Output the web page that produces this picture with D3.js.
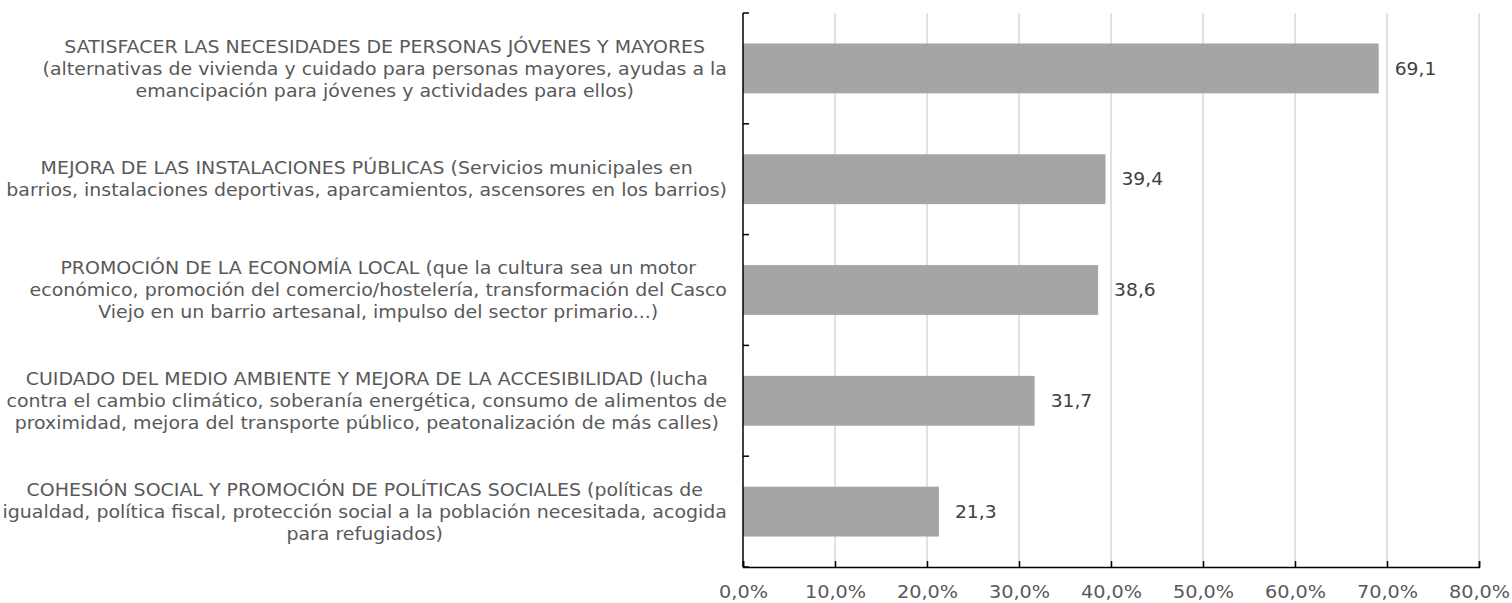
<!DOCTYPE html>
<html>
<head>
<meta charset="utf-8">
<script src="https://cdn.jsdelivr.net/npm/d3@7"></script>
<style>
  html, body { margin: 0; padding: 0; background: #fff; }
  svg { display: block; }
  text { font-family: Verdana, "DejaVu Sans", sans-serif; }
</style>
</head>
<body>
<div id="chart"></div>
<script>
// label lines for each bar, top to bottom
var labelLines = [
  ["SATISFACER LAS NECESIDADES DE PERSONAS JÓVENES Y MAYORES",
   "(alternativas de vivienda y cuidado para personas mayores, ayudas a la",
   "emancipación para jóvenes y actividades para ellos)"],
  ["MEJORA DE LAS INSTALACIONES PÚBLICAS (Servicios municipales en",
   "barrios, instalaciones deportivas, aparcamientos, ascensores en los barrios)"],
  ["PROMOCIÓN DE LA ECONOMÍA LOCAL (que la cultura sea un motor",
   "económico, promoción del comercio/hostelería, transformación del Casco",
   "Viejo en un barrio artesanal, impulso del sector primario...)"],
  ["CUIDADO DEL MEDIO AMBIENTE Y MEJORA DE LA ACCESIBILIDAD (lucha",
   "contra el cambio climático, soberanía energética, consumo de alimentos de",
   "proximidad, mejora del transporte público, peatonalización de más calles)"],
  ["COHESIÓN SOCIAL Y PROMOCIÓN DE POLÍTICAS SOCIALES (políticas de",
   "igualdad, política fiscal, protección social a la población necesitada, acogida",
   "para refugiados)"]
];
var values = [69.1, 39.4, 38.6, 31.7, 21.3];
var xTicks = [0, 10, 20, 30, 40, 50, 60, 70, 80];

var width = 1512, height = 603;
var margin = {top: 13, right: 33, bottom: 36, left: 743};
// DejaVu is narrower than Verdana, stretch text a little
var stretch = 1.1;
var labelStretch = 1.115;

var svg = d3.select('#chart').append('svg')
  .attr('width', width)
  .attr('height', height);

var x = d3.scaleLinear()
  .domain([0, 80])
  .range([margin.left, width - margin.right]);

var idx = d3.range(values.length);
var y = d3.scaleBand()
  .domain(idx)
  .range([margin.top, height - margin.bottom])
  .paddingInner(0.55)
  .paddingOuter(0.275);

var fmt = function(v) { return d3.format('.1f')(v).replace('.', ','); };

// vertical gridlines
svg.append('g')
  .selectAll('line')
  .data(xTicks.slice(1))
  .enter().append('line')
  .attr('x1', d => x(d)).attr('x2', d => x(d))
  .attr('y1', margin.top).attr('y2', height - margin.bottom)
  .attr('stroke', '#d9d9d9')
  .attr('stroke-width', 1.5);

// bars
svg.append('g')
  .selectAll('rect')
  .data(values)
  .enter().append('rect')
  .attr('x', x(0))
  .attr('y', (d, i) => y(i))
  .attr('width', d => x(d) - x(0))
  .attr('height', y.bandwidth())
  .attr('fill', '#a5a5a5');

// value labels
svg.append('g')
  .selectAll('g')
  .data(values)
  .enter().append('g')
  .attr('transform', (d, i) => 'translate(' + (x(d) + 16) + ',' + (y(i) + y.bandwidth() / 2) + ') scale(' + stretch + ',1)')
  .append('text')
  .attr('dy', '0.36em')
  .attr('font-size', 17)
  .attr('fill', '#404040')
  .text(d => fmt(d));

// x axis
var xAxis = d3.axisBottom(x)
  .tickValues(xTicks)
  .tickSize(-6)
  .tickPadding(18)
  .tickFormat(d => fmt(d) + '%');

var gx = svg.append('g')
  .attr('transform', 'translate(0,' + (height - margin.bottom) + ')')
  .call(xAxis);
gx.select('.domain').attr('stroke', '#000').attr('stroke-width', 1.5);
gx.selectAll('.tick line').attr('stroke', '#000').attr('stroke-width', 1.5);
gx.selectAll('.tick text')
  .attr('font-size', 18)
  .attr('font-family', 'Verdana, "DejaVu Sans", sans-serif')
  .attr('fill', '#595959')
  .attr('transform', 'scale(1.07,1)');

// y axis line with ticks at category boundaries
var step = y.step();
var bounds = d3.range(values.length + 1).map(i => margin.top + i * step);
var gy = svg.append('g');
gy.append('line')
  .attr('x1', x(0)).attr('x2', x(0))
  .attr('y1', margin.top).attr('y2', height - margin.bottom)
  .attr('stroke', '#000').attr('stroke-width', 1.5);
gy.selectAll('line.tk')
  .data(bounds)
  .enter().append('line')
  .attr('class', 'tk')
  .attr('x1', x(0)).attr('x2', x(0) + 6)
  .attr('y1', d => d).attr('y2', d => d)
  .attr('stroke', '#000').attr('stroke-width', 1.5);

// category labels, each block centred, right edge near the axis
var lineH = 22;
var labelRight = x(0) - 16;
labelLines.forEach(function(lines, i) {
  var g = svg.append('g');
  var cy = y(i) + y.bandwidth() / 2;
  var texts = g.selectAll('text')
    .data(lines)
    .enter().append('text')
    .attr('font-size', 17)
    .attr('fill', '#595959')
    .attr('text-anchor', 'middle')
    .attr('y', (d, j) => cy + (j - (lines.length - 1) / 2) * lineH)
    .attr('dy', '0.36em')
    .text(d => d);
  var maxW = d3.max(texts.nodes(), n => n.getComputedTextLength()) * labelStretch;
  g.attr('transform', 'translate(' + (labelRight - maxW / 2) + ',0) scale(' + labelStretch + ',1)');
});
</script>
</body>
</html>
